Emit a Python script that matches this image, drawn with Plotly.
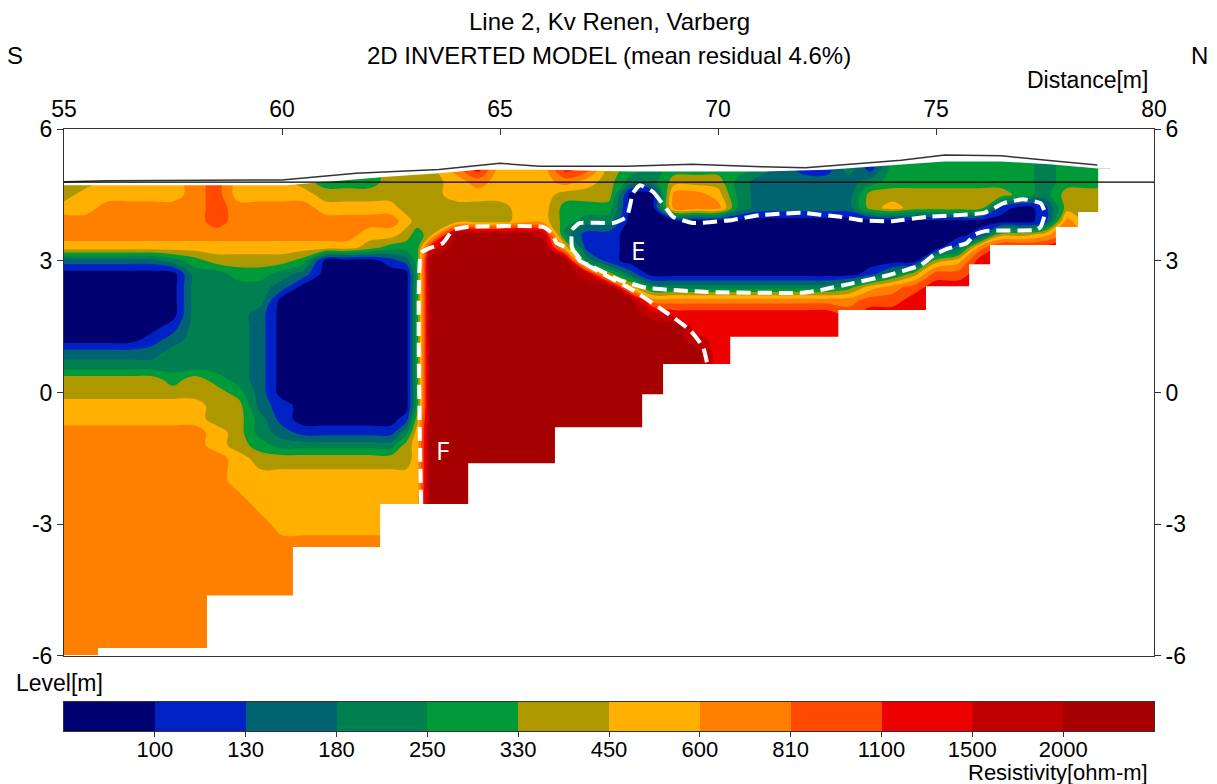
import numpy as np
import plotly.graph_objects as go

# ---------------- data ----------------
class_bounds = [100, 130, 180, 250, 330, 450, 600, 810, 1100, 1500, 2000]
class_colors = ["#000070", "#0022C4", "#006470", "#008050", "#009A38", "#AE9800",
                "#FFB000", "#FF8000", "#FF4A00", "#EE0000", "#C00000", "#A60000"]

# model nodes (distance, level) and resistivity class (0..11 = band of class_bounds) per node
grid_x = [55.0, 55.5, 56.0, 56.5, 57.0, 57.5, 58.0, 58.5, 59.0, 59.5, 60.0, 60.5,
          61.0, 61.5, 62.0, 62.5, 62.85, 63.1, 63.4, 64.0, 64.5, 65.0, 65.5, 66.0,
          66.5, 67.0, 67.5, 68.0, 68.5, 69.0, 69.5, 70.0, 70.5, 71.0, 71.5, 72.0,
          72.5, 73.0, 73.5, 74.0, 74.5, 75.0, 75.5, 76.0, 76.5, 77.0, 77.5, 78.0,
          78.5, 79.0]
grid_y = [5.4, 5.1, 4.8, 4.5, 4.2, 3.9, 3.6, 3.3, 3.0, 2.7, 2.4, 2.1, 1.8, 1.5,
          1.2, 0.9, 0.6, 0.3, 0.0, -0.3, -0.6, -0.9, -1.2, -1.5, -2.0, -2.5, -3.0,
          -3.5, -4.0, -4.5, -5.0, -5.5, -6.0]
# one string per grid_x column, top (5.4) to bottom (-6.0); hex digit = class
grid_columns = [
    "5555 6776 2000 0002 3556 6777 7777 7777 7",
    "5556 6776 2000 0002 3556 6777 7777 7777 7",
    "6666 7776 2000 0002 3556 6777 7777 7777 7",
    "6666 7776 2000 0002 3556 6777 7777 7777 7",
    "6666 7776 2000 0012 3556 6777 7777 7777 7",
    "6666 7776 3000 0123 3456 6777 7777 7777 7",
    "7777 7776 4333 3333 3556 6777 7777 7777 7",
    "7888 8876 5333 3333 3455 5667 7777 7777 7",
    "6666 7776 5433 3333 3345 5556 6777 7777 7",
    "6666 7776 5433 2222 2222 3345 6677 7777 7",
    "6666 7776 5320 0000 0001 1235 6667 7777 7",
    "5556 7776 4200 0000 0000 0135 6667 7777 7",
    "4445 6776 0000 0000 0000 0135 6667 7777 7",
    "4445 6776 0000 0000 0000 0135 6667 7777 7",
    "4445 6765 0000 0000 0000 0135 6667 7777 7",
    "5555 6764 1000 0000 0000 0135 6667 7777 7",
    "5555 5654 2000 0000 0000 1355 6667 7777 7",
    "5555 5544 4444 4444 4444 5666 6667 7777 7",
    "5555 5559 BBBB BBBB BBBB BBBB BBBB BBBB B",
    "6766 55BB BBBB BBBB BBBB BBBB BBBB BBBB B",
    "9976 55BB BBBB BBBB BBBB BBBB BBBB BBBB B",
    "6666 55BB BBBB BBBB BBBB BBBB BBBB BBBB B",
    "6666 66BB BBBB BBBB BBBB BBBB BBBB BBBB B",
    "6666 66AB BBBB BBBB BBBB BBBB BBBB BBBB B",
    "8975 4436 BBBB BBBB BBBB BBBB BBBB BBBB B",
    "7865 4311 3ABB BBBB BBBB BBBB BBBB BBBB B",
    "5555 4311 15BB BBBB BBBB BBBB BBBB BBBB B",
    "4430 0000 026B BBBB BBBB BBBB BBBB BBBB B",
    "3330 0000 0037 ABBB BBBB BBBB BBBB BBBB B",
    "4457 7000 0037 9BBB BBBB BBBB BBBB BBBB B",
    "4457 7000 0037 99AB BBBB BBBB BBBB BBBB B",
    "4456 7000 0037 9999 9999 9999 9999 9999 9",
    "4433 3000 0037 9999 9999 9999 9999 9999 9",
    "3322 2000 0037 9999 9999 9999 9999 9999 9",
    "2222 2000 0037 9999 9999 9999 9999 9999 9",
    "1122 2000 0037 9999 9999 9999 9999 9999 9",
    "1122 2000 0037 9999 9999 9999 9999 9999 9",
    "3322 2000 0047 8999 9999 9999 9999 9999 9",
    "1135 5000 0168 9999 9999 9999 9999 9999 9",
    "4445 6000 0378 9999 9999 9999 9999 9999 9",
    "4445 5000 0589 9999 9999 9999 9999 9999 9",
    "4445 5000 5899 9999 9999 9999 9999 9999 9",
    "4445 5002 6899 9999 9999 9999 9999 9999 9",
    "4445 5017 9999 9999 9999 9999 9999 9999 9",
    "4445 1059 9999 9999 9999 9999 9999 9999 9",
    "4444 0059 9999 9999 9999 9999 9999 9999 9",
    "3333 1169 9999 9999 9999 9999 9999 9999 9",
    "4445 5789 9999 9999 9999 9999 9999 9999 9",
    "4445 5567 7777 7777 7777 7777 7777 7777 7",
    "4445 5567 7777 7777 7777 7777 7777 7777 7",
]

# top of the model section and the surveyed ground line
surface_x = [55.0, 60.1, 62.4, 63.6, 64.5, 66.0, 68.0, 71.0, 72.5, 74.0, 75.2, 76.5, 77.6, 78.72]
surface_y = [4.72, 4.72, 4.91, 4.99, 5.07, 5.07, 5.03, 5.03, 5.07, 5.18, 5.26, 5.26, 5.20, 5.10]
topo_x = [55.0, 56.0, 60.0, 61.7, 63.6, 65.0, 65.9, 67.9, 69.4, 71.0, 72.0, 73.0, 74.2, 75.2, 76.5, 77.6, 78.7]
topo_y = [4.80, 4.82, 4.84, 4.99, 5.08, 5.22, 5.15, 5.15, 5.20, 5.14, 5.12, 5.20, 5.29, 5.41, 5.39, 5.28, 5.18]
datum_level = 4.79

# bottom of the model blocks (staircase)
model_edges = [55.0, 55.78, 58.28, 60.25, 62.25, 64.27, 66.26, 68.26, 68.74, 70.28,
               72.76, 74.77, 75.76, 76.24, 77.75, 78.26, 78.72]
model_bottom = [-5.98, -5.82, -4.62, -3.52, -2.54, -1.61, -0.79, -0.04, 0.65, 1.27,
                1.88, 2.42, 2.92, 3.36, 3.77, 4.11]

# interpreted zones
zone_E_x = [68.21, 68.51, 68.97, 69.43, 70.34, 70.96, 71.9, 72.8, 73.3, 74.0, 74.8, 76.1,
            76.55, 77.0, 77.4, 77.5, 77.4, 77.3, 76.15, 75.9, 75.7, 75.25, 74.95, 74.65,
            73.9, 73.1, 72.35, 71.9, 69.75, 68.37, 67.75, 67.13, 66.83, 66.65, 66.65,
            66.83, 67.59, 67.91, 68.05, 68.21]
zone_E_y = [4.72, 4.57, 4.0, 3.86, 3.93, 4.04, 4.09, 4.0, 3.92, 3.9, 4.0, 4.09,
            4.31, 4.4, 4.31, 4.09, 3.77, 3.70, 3.68, 3.6, 3.4, 3.27, 3.13, 2.9,
            2.67, 2.49, 2.33, 2.27, 2.29, 2.38, 2.56, 2.86, 3.0, 3.31, 3.7,
            3.86, 3.86, 4.0, 4.54, 4.72]
zone_F_x = [63.19, 63.19, 63.39, 63.69, 63.92, 64.24, 65.99, 66.2, 66.3, 66.67, 66.9,
            67.29, 68.05, 68.83, 69.36, 69.66, 69.75]
zone_F_y = [-2.54, 3.18, 3.29, 3.4, 3.7, 3.77, 3.77, 3.62, 3.4, 3.24, 2.97,
            2.74, 2.33, 1.81, 1.42, 1.03, 0.67]
zone_labels = ["E", "F"]
zone_label_x = [68.17, 63.67]
zone_label_y = [3.24, -1.31]

level_ticks = [-6, -3, 0, 3, 6]
distance_ticks = [55, 60, 65, 70, 75, 80]

# ---------------- build ----------------
FONT = "Liberation Sans, Arial, sans-serif"
n_cls = len(class_colors)
top = n_cls - 1
cscale = []
for k, c in enumerate(class_colors):
    cscale.append([max(0.0, (k - 0.5) / top), c])
    cscale.append([min(1.0, (k + 0.5) / top), c])

cols = [s.replace(" ", "") for s in grid_columns]
for s in cols:
    assert len(s) == len(grid_y), s
z = np.array([[int(ch, 16) for ch in s] for s in cols], dtype=float).T
z = z[::-1]
ys = grid_y[::-1]

fig = go.Figure()
fig.add_trace(go.Contour(
    x=grid_x, y=ys, z=z, colorscale=cscale, zmin=0, zmax=top,
    autocontour=False,
    contours=dict(start=0.5, end=top - 0.5, size=1, coloring="fill", showlines=False),
    line=dict(width=0, smoothing=1.0), showscale=False, hoverinfo="skip"))

# white outside the model: above the surface and below the block staircase
tx = surface_x + [81, 81, 54, 54]
ty = surface_y + [surface_y[-1], 7, 7, surface_y[0]]
fig.add_trace(go.Scatter(x=tx, y=ty, mode="lines", fill="toself", fillcolor="white",
                         line=dict(width=0, color="white"), hoverinfo="skip", showlegend=False))
bx, by = [model_edges[-1]], [surface_y[-1]]
for j in range(len(model_bottom) - 1, -1, -1):
    bx += [model_edges[j + 1], model_edges[j]]
    by += [model_bottom[j], model_bottom[j]]
bx += [54, 54, 81, 81]
by += [model_bottom[0], -7, -7, surface_y[-1]]
fig.add_trace(go.Scatter(x=bx, y=by, mode="lines", fill="toself", fillcolor="white",
                         line=dict(width=0, color="white"), hoverinfo="skip", showlegend=False))

# ground line and datum
fig.add_trace(go.Scatter(x=topo_x, y=topo_y, mode="lines", yaxis="y2",
                         line=dict(color="#333333", width=1.5), hoverinfo="skip", showlegend=False))
fig.add_shape(type="line", xref="x", yref="y", x0=55, x1=80, y0=datum_level, y1=datum_level,
              line=dict(color="black", width=1.3))

# interpreted zones
for zx, zy in [(zone_E_x, zone_E_y), (zone_F_x, zone_F_y)]:
    fig.add_trace(go.Scatter(x=zx, y=zy, mode="lines",
                             line=dict(color="white", width=4, dash="14px,7px",
                                       shape="spline", smoothing=0.4),
                             hoverinfo="skip", showlegend=False))
for t, lx, ly in zip(zone_labels, zone_label_x, zone_label_y):
    fig.add_annotation(x=lx, y=ly, xref="x", yref="y", text=t, showarrow=False,
                       font=dict(family="Open Sans, sans-serif", size=26, color="white"))

# colour scale bar
fig.add_trace(go.Heatmap(z=[list(range(n_cls))], x=[k + 0.5 for k in range(n_cls)], y=[0.5],
                         colorscale=cscale, zmin=0, zmax=top, showscale=False,
                         xaxis="x2", yaxis="y3", hoverinfo="skip"))

axis_col = "#333333"
level_text = [str(v).replace("\u2212", "-") for v in level_ticks]
fig.update_layout(
    width=1217, height=784, autosize=False,
    margin=dict(l=64, r=63, t=129, b=53, pad=0),
    paper_bgcolor="white", plot_bgcolor="white",
    font=dict(family=FONT, size=23, color="black"),
    showlegend=False,
    xaxis=dict(domain=[0, 1], anchor="y", side="top", range=[55, 80],
               tickmode="array", tickvals=distance_ticks,
               ticks="inside", ticklen=6, tickcolor=axis_col, ticklabelstandoff=2,
               showline=True, mirror=True, linecolor=axis_col, linewidth=1,
               showgrid=False, zeroline=False, tickfont=dict(size=23)),
    yaxis=dict(domain=[0.1246, 1], anchor="x", range=[-6, 6],
               tickmode="array", tickvals=level_ticks, ticktext=level_text,
               ticks="outside", ticklen=6, tickcolor=axis_col,
               showline=True, mirror=True, linecolor=axis_col, linewidth=1,
               showgrid=False, zeroline=False, tickfont=dict(size=23)),
    yaxis2=dict(overlaying="y", side="right", anchor="x", range=[-6, 6],
                tickmode="array", tickvals=level_ticks, ticktext=level_text,
                ticks="outside", ticklen=6, tickcolor=axis_col,
                showline=False, showgrid=False, zeroline=False, tickfont=dict(size=23)),
    xaxis2=dict(domain=[0, 1], anchor="y3", range=[0, n_cls],
                tickmode="array", tickvals=list(range(1, n_cls)),
                ticktext=[str(b) for b in class_bounds],
                ticks="outside", ticklen=5, tickcolor=axis_col, ticklabelstandoff=-6,
                showline=True, mirror=True, linecolor=axis_col, linewidth=1,
                showgrid=False, zeroline=False, tickfont=dict(size=22)),
    yaxis3=dict(domain=[0, 0.0482], anchor="x2", range=[0, 1],
                showticklabels=False, ticks="", showline=True, mirror=True,
                linecolor=axis_col, linewidth=1, showgrid=False, zeroline=False),
)

def ann(text, x, y, xanchor="center", size=23):
    fig.add_annotation(text=text, x=x, y=y, xref="paper", yref="paper",
                       xanchor=xanchor, yanchor="middle", showarrow=False,
                       font=dict(family=FONT, size=size, color="black"))

ann("Line 2, Kv Renen, Varberg", 0.5, 1.1794, size=24)
ann("2D INVERTED MODEL (mean residual 4.6%)", 0.5, 1.1213, size=24)
ann("S", -0.045, 1.1213, size=24)
ann("N", 1.0422, 1.1213, size=24)
ann("Distance[m]", 0.9963, 1.0814, xanchor="right")
ann("Level[m]", -0.0459, 0.0797, xanchor="left")
ann("Resistivity[ohm-m]", 0.9963, -0.0695, xanchor="right", size=22)

fig.write_html("out.html")
